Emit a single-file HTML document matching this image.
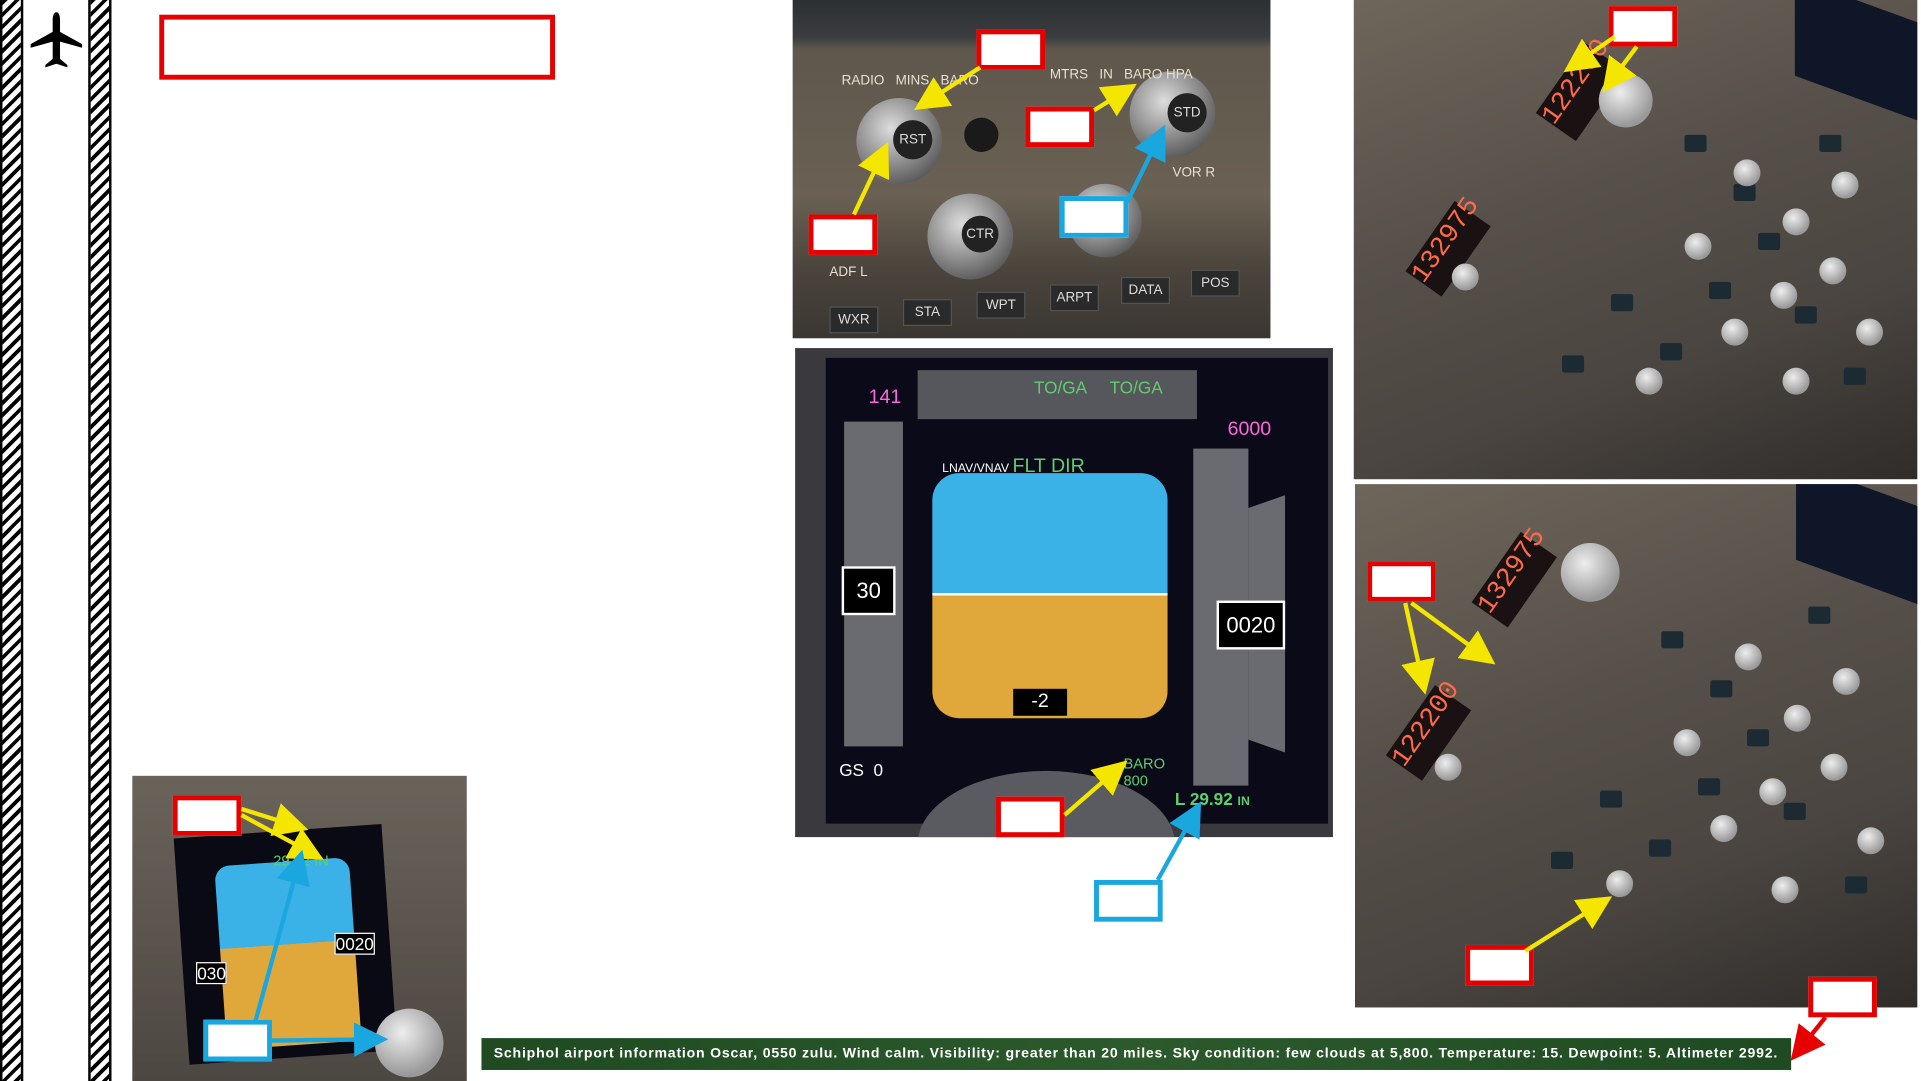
<!DOCTYPE html>
<html><head><meta charset="utf-8">
<style>
html,body{margin:0;padding:0;background:#fff;width:1921px;height:1081px;overflow:hidden}
#stage{position:absolute;left:0;top:0;width:1568px;height:882px;transform:scale(1.22513,1.22562);transform-origin:0 0;font-family:"Liberation Sans",sans-serif}
.a{position:absolute}
.hatch{background:repeating-linear-gradient(135deg,#000 0 3px,#fff 3px 7px);border-left:2px solid #000;border-right:2px solid #000;box-sizing:border-box}
.rb{position:absolute;border:4px solid #e60000;background:#fff;box-sizing:border-box}
.bb{position:absolute;border:4px solid #1aa7e0;background:#fff;box-sizing:border-box}
.photo{position:absolute;overflow:hidden}
.knob{position:absolute;border-radius:50%;background:radial-gradient(circle at 40% 35%,#ddd,#777 60%,#333);}
.btn{position:absolute;background:#2a2a2a;color:#ddd;font-size:11px;text-align:center;line-height:20px;border:1px solid #555}
.sw{position:absolute;width:18px;height:14px;background:#1c2a33;border-radius:2px}
.kn{position:absolute;width:22px;height:22px;border-radius:50%;background:radial-gradient(circle at 40% 35%,#eee,#999 70%)}
</style></head><body>
<div id="stage">
<div class="a hatch" style="left:0;top:0;width:19px;height:882px"></div>
<div class="a hatch" style="left:72px;top:0;width:19px;height:882px"></div>
<svg class="a" style="left:22px;top:8px" width="48" height="52" viewBox="0 0 48 52">
<path d="M24 2c2 0 3 3 3 6v10l18 10v3l-18-5v14l6 5v2l-9-3-9 3v-2l6-5V26L3 31v-3l18-10V8c0-3 1-6 3-6z" fill="#000"/></svg>
<div class="rb" style="left:130px;top:12px;width:323px;height:53px"></div>

<div class="photo" style="left:647px;top:0;width:390px;height:276px;background:linear-gradient(180deg,#2c2f33 0,#3a3c3e 30px,#5f574c 40px,#6a6154 160px,#4a443c 220px,#3a3631 276px)">
 <div class="knob" style="left:52px;top:80px;width:70px;height:70px"></div>
 <div class="a" style="left:82px;top:98px;width:32px;height:32px;border-radius:50%;background:#222;color:#ddd;font-size:11px;line-height:32px;text-align:center">RST</div>
 <div class="a" style="left:140px;top:96px;width:28px;height:28px;border-radius:50%;background:#1a1a1a"></div>
 <div class="knob" style="left:110px;top:158px;width:70px;height:70px"></div>
 <div class="a" style="left:138px;top:176px;width:30px;height:30px;border-radius:50%;background:#222;color:#ddd;font-size:11px;line-height:30px;text-align:center">CTR</div>
 <div class="knob" style="left:275px;top:58px;width:70px;height:70px"></div>
 <div class="a" style="left:306px;top:76px;width:32px;height:32px;border-radius:50%;background:#222;color:#ddd;font-size:11px;line-height:32px;text-align:center">STD</div>
 <div class="knob" style="left:225px;top:150px;width:60px;height:60px"></div>
 <div class="a" style="left:40px;top:60px;color:#e8e0d0;font-size:11px">RADIO &nbsp; MINS &nbsp; BARO</div>
 <div class="a" style="left:210px;top:55px;color:#e8e0d0;font-size:11px">MTRS &nbsp; IN &nbsp; BARO HPA</div>
 <div class="a" style="left:310px;top:135px;color:#e8e0d0;font-size:11px">VOR R</div>
 <div class="a" style="left:30px;top:216px;color:#e8e0d0;font-size:11px">ADF L</div>
 <div class="btn" style="left:30px;top:250px;width:38px">WXR</div>
 <div class="btn" style="left:90px;top:244px;width:38px">STA</div>
 <div class="btn" style="left:150px;top:238px;width:38px">WPT</div>
 <div class="btn" style="left:210px;top:232px;width:38px">ARPT</div>
 <div class="btn" style="left:268px;top:226px;width:38px">DATA</div>
 <div class="btn" style="left:325px;top:220px;width:38px">POS</div>
</div>

<div class="photo" style="left:1105px;top:0;width:460px;height:391px;background:linear-gradient(160deg,#6e665a 0,#57504a 40%,#4a4540 70%,#2f2c2a 100%)">
 <div class="a" style="left:150px;top:55px;width:70px;height:40px;background:#1a1212;color:#ff6a4a;font-family:'Liberation Mono',monospace;font-size:22px;transform:rotate(-55deg)">122200</div>
 <div class="a" style="left:42px;top:185px;width:70px;height:36px;background:#1a1212;color:#ff6a4a;font-family:'Liberation Mono',monospace;font-size:22px;transform:rotate(-55deg)">132975</div>
 <div class="kn" style="left:200px;top:60px;width:44px;height:44px"></div>
 <div class="kn" style="left:80px;top:215px"></div>
 <div class="sw" style="left:270px;top:110px"></div><div class="sw" style="left:310px;top:150px"></div><div class="sw" style="left:330px;top:190px"></div><div class="sw" style="left:210px;top:240px"></div><div class="sw" style="left:250px;top:280px"></div><div class="sw" style="left:170px;top:290px"></div><div class="sw" style="left:380px;top:110px"></div><div class="sw" style="left:290px;top:230px"></div><div class="sw" style="left:360px;top:250px"></div><div class="sw" style="left:400px;top:300px"></div>
 <div class="kn" style="left:310px;top:130px"></div><div class="kn" style="left:350px;top:170px"></div><div class="kn" style="left:270px;top:190px"></div><div class="kn" style="left:300px;top:260px"></div><div class="kn" style="left:230px;top:300px"></div><div class="kn" style="left:340px;top:230px"></div><div class="kn" style="left:390px;top:140px"></div><div class="kn" style="left:380px;top:210px"></div><div class="kn" style="left:350px;top:300px"></div><div class="kn" style="left:410px;top:260px"></div>
 <div class="a" style="left:360px;top:0;width:100px;height:80px;background:#0e1628;transform:skewY(20deg)"></div>
</div>

<div class="photo" style="left:649px;top:284px;width:439px;height:399px;background:#3a3a3e">
 <div class="a" style="left:25px;top:8px;width:410px;height:380px;background:#0a0a18"></div>
 <div class="a" style="left:100px;top:18px;width:228px;height:40px;background:#55575c"></div>
 <div class="a" style="left:195px;top:24px;color:#5fce6c;font-size:14px">TO/GA &nbsp;&nbsp;&nbsp; TO/GA</div>
 <div class="a" style="left:60px;top:32px;color:#ff66dd;font-size:16px">141</div>
 <div class="a" style="left:353px;top:58px;color:#ff66dd;font-size:16px">6000</div>
 <div class="a" style="left:40px;top:60px;width:48px;height:265px;background:#6a6b70"></div>
 <div class="a" style="left:325px;top:82px;width:45px;height:275px;background:#6a6b70"></div>
 <div class="a" style="left:370px;top:120px;width:30px;height:210px;background:#6a6b70;clip-path:polygon(0 5%,100% 0,100% 100%,0 95%)"></div>
 <div class="a" style="left:120px;top:88px;color:#fff;font-size:10px">LNAV/VNAV <span style="color:#5fce6c;font-size:16px">FLT DIR</span></div>
 <div class="a" style="left:112px;top:102px;width:192px;height:200px;border-radius:22px;overflow:hidden;background:linear-gradient(180deg,#3ab2e8 0,#3ab2e8 49%,#fff 49%,#fff 50%,#e0a73a 50%)"></div>
 <div class="a" style="left:178px;top:278px;width:44px;height:22px;background:#000;color:#fff;font-size:16px;text-align:center;line-height:22px">-2</div>
 <div class="a" style="left:38px;top:178px;width:40px;height:36px;background:#000;border:2px solid #fff;color:#fff;font-size:18px;line-height:36px;text-align:center">30</div>
 <div class="a" style="left:344px;top:206px;width:52px;height:36px;background:#000;border:2px solid #fff;color:#fff;font-size:18px;line-height:36px;text-align:center">0020</div>
 <div class="a" style="left:36px;top:336px;color:#fff;font-size:14px">GS &nbsp;0</div>
 <div class="a" style="left:268px;top:332px;color:#5fce6c;font-size:12px">BARO<br>800</div>
 <div class="a" style="left:310px;top:360px;color:#5fce6c;font-size:14px;font-weight:bold">L 29.92 <span style="font-size:10px">IN</span></div>
 <div class="a" style="left:100px;top:345px;width:210px;height:120px;border-radius:50%;background:#5a5b60"></div>
</div>

<div class="photo" style="left:1106px;top:395px;width:459px;height:427px;background:linear-gradient(160deg,#6e665a 0,#57504a 40%,#4a4540 70%,#2f2c2a 100%)">
 <div class="a" style="left:95px;top:60px;width:70px;height:36px;background:#1a1212;color:#ff6a4a;font-family:'Liberation Mono',monospace;font-size:22px;transform:rotate(-55deg)">132975</div>
 <div class="a" style="left:25px;top:185px;width:70px;height:36px;background:#1a1212;color:#ff6a4a;font-family:'Liberation Mono',monospace;font-size:22px;transform:rotate(-55deg)">122200</div>
 <div class="kn" style="left:168px;top:48px;width:48px;height:48px"></div>
 <div class="kn" style="left:65px;top:220px"></div>
 <div class="sw" style="left:250px;top:120px"></div><div class="sw" style="left:290px;top:160px"></div><div class="sw" style="left:320px;top:200px"></div><div class="sw" style="left:200px;top:250px"></div><div class="sw" style="left:240px;top:290px"></div><div class="sw" style="left:160px;top:300px"></div><div class="sw" style="left:370px;top:100px"></div><div class="sw" style="left:280px;top:240px"></div><div class="sw" style="left:350px;top:260px"></div><div class="sw" style="left:400px;top:320px"></div>
 <div class="kn" style="left:310px;top:130px"></div><div class="kn" style="left:350px;top:180px"></div><div class="kn" style="left:260px;top:200px"></div><div class="kn" style="left:290px;top:270px"></div><div class="kn" style="left:205px;top:315px"></div><div class="kn" style="left:330px;top:240px"></div><div class="kn" style="left:390px;top:150px"></div><div class="kn" style="left:380px;top:220px"></div><div class="kn" style="left:340px;top:320px"></div><div class="kn" style="left:410px;top:280px"></div>
 <div class="a" style="left:360px;top:0;width:100px;height:80px;background:#0e1628;transform:skewY(20deg)"></div>
</div>

<div class="photo" style="left:108px;top:633px;width:273px;height:249px;background:linear-gradient(180deg,#6a635a,#4c4741)">
 <div class="a" style="left:40px;top:45px;width:170px;height:185px;background:#0a0a14;transform:rotate(-4deg)"></div>
 <div class="a" style="left:72px;top:70px;width:110px;height:150px;border-radius:12px;overflow:hidden;background:linear-gradient(180deg,#3ab2e8 0,#3ab2e8 45%,#e0a73a 45%);transform:rotate(-4deg)"></div>
 <div class="a" style="left:115px;top:62px;color:#5fce6c;font-size:12px">29.92 IN</div>
 <div class="a" style="left:52px;top:152px;background:#000;color:#fff;font-size:14px;border:1px solid #fff">030</div>
 <div class="a" style="left:165px;top:128px;background:#000;color:#fff;font-size:14px;border:1px solid #fff">0020</div>
 <div class="kn" style="left:198px;top:190px;width:56px;height:56px"></div>
</div>

<div class="a" style="left:393px;top:847px;width:1069px;height:26px;background:linear-gradient(90deg,#1f4a22,#2c5a2c 50%,#1f4a22);color:#fff;font-size:11.5px;font-weight:bold;letter-spacing:0.65px;line-height:26px;padding-left:10px;box-sizing:border-box;white-space:nowrap;overflow:hidden">Schiphol airport information Oscar, 0550 zulu. Wind calm. Visibility:  greater than 20 miles. Sky condition: few clouds at 5,800.  Temperature: 15. Dewpoint: 5. Altimeter 2992.</div>

<div class="rb" style="left:797px;top:24px;width:56px;height:33px"></div>
<div class="rb" style="left:660px;top:175px;width:56px;height:33px"></div>
<div class="rb" style="left:837px;top:87px;width:56px;height:33px"></div>
<div class="bb" style="left:865px;top:160px;width:56px;height:34px"></div>
<div class="rb" style="left:1313px;top:5px;width:56px;height:33px"></div>
<div class="rb" style="left:813px;top:650px;width:56px;height:33px"></div>
<div class="bb" style="left:893px;top:718px;width:56px;height:34px"></div>
<div class="rb" style="left:1116px;top:458px;width:56px;height:33px"></div>
<div class="rb" style="left:1196px;top:771px;width:56px;height:33px"></div>
<div class="rb" style="left:1476px;top:797px;width:56px;height:33px"></div>
<div class="rb" style="left:141px;top:649px;width:56px;height:33px"></div>
<div class="bb" style="left:166px;top:832px;width:56px;height:34px"></div>

<svg class="a" style="left:0;top:0" width="1568" height="882">
<defs>
<marker id="ay" markerWidth="8" markerHeight="8" refX="6" refY="4" orient="auto"><path d="M0 0L8 4L0 8z" fill="#f5e600"/></marker>
<marker id="ab" markerWidth="8" markerHeight="8" refX="6" refY="4" orient="auto"><path d="M0 0L8 4L0 8z" fill="#1aa7e0"/></marker>
<marker id="ar" markerWidth="8" markerHeight="8" refX="6" refY="4" orient="auto"><path d="M0 0L8 4L0 8z" fill="#e60000"/></marker>
</defs>
<g stroke="#f5e600" stroke-width="3.5" fill="none" marker-end="url(#ay)">
<line x1="800" y1="55" x2="752" y2="86"/>
<line x1="697" y1="175" x2="722" y2="122"/>
<line x1="893" y1="90" x2="922" y2="72"/>
<line x1="1318" y1="30" x2="1282" y2="55"/>
<line x1="1336" y1="38" x2="1312" y2="70"/>
<line x1="869" y1="665" x2="915" y2="625"/>
<line x1="1147" y1="492" x2="1162" y2="560"/>
<line x1="1152" y1="492" x2="1215" y2="538"/>
<line x1="1245" y1="776" x2="1310" y2="735"/>
<line x1="197" y1="660" x2="245" y2="675"/>
<line x1="197" y1="665" x2="258" y2="698"/>
</g>
<g stroke="#1aa7e0" stroke-width="3.5" fill="none" marker-end="url(#ab)">
<line x1="920" y1="165" x2="948" y2="108"/>
<line x1="945" y1="718" x2="977" y2="660"/>
<line x1="208" y1="835" x2="245" y2="700"/>
<line x1="222" y1="849" x2="310" y2="848"/>
</g>
<g stroke="#e60000" stroke-width="3.5" fill="none" marker-end="url(#ar)">
<line x1="1490" y1="830" x2="1466" y2="860"/>
</g>
</svg>
</div>
</body></html>
